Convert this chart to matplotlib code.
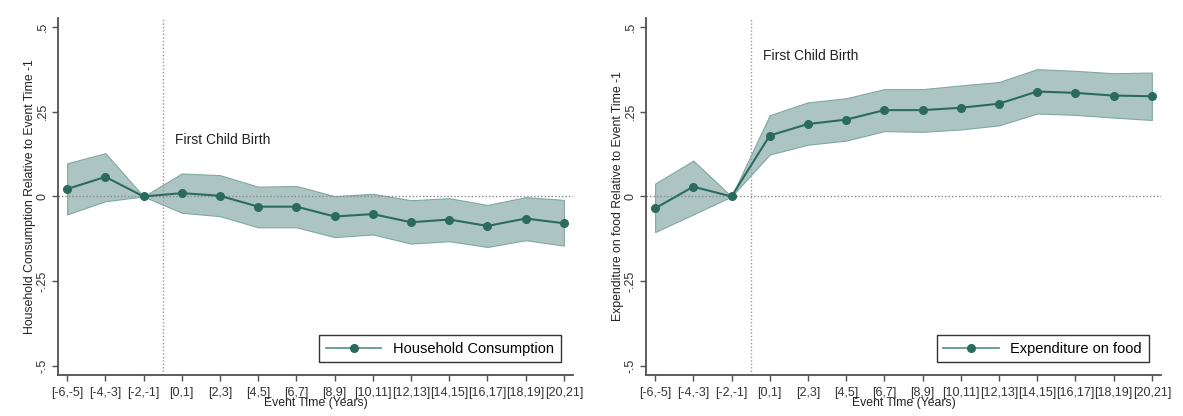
import numpy as np
import matplotlib
matplotlib.use("Agg")
import matplotlib.pyplot as plt

plt.rcParams['font.family'] = ['Liberation Sans', 'DejaVu Sans']

# event-time bins
bins = ['[-6,-5]', '[-4,-3]', '[-2,-1]', '[0,1]', '[2,3]', '[4,5]', '[6,7]',
        '[8,9]', '[10,11]', '[12,13]', '[14,15]', '[16,17]', '[18,19]', '[20,21]']

# household consumption: estimate and 95% CI
cons = [0.022, 0.058, 0.0, 0.010, 0.002, -0.030, -0.030, -0.059, -0.052,
        -0.076, -0.068, -0.087, -0.065, -0.079]
cons_hi = [0.098, 0.128, 0.0, 0.068, 0.063, 0.029, 0.031, 0.001, 0.008,
           -0.011, -0.005, -0.025, -0.002, -0.010]
cons_lo = [-0.053, -0.014, 0.0, -0.048, -0.058, -0.091, -0.091, -0.120, -0.112,
           -0.139, -0.132, -0.149, -0.129, -0.145]

# expenditure on food: estimate and 95% CI
food = [-0.035, 0.029, 0.0, 0.180, 0.214, 0.227, 0.255, 0.255, 0.262,
        0.274, 0.310, 0.306, 0.298, 0.296]
food_hi = [0.038, 0.106, 0.0, 0.240, 0.278, 0.290, 0.317, 0.317, 0.328,
           0.338, 0.376, 0.371, 0.364, 0.366]
food_lo = [-0.105, -0.053, 0.0, 0.124, 0.153, 0.165, 0.193, 0.191, 0.198,
           0.210, 0.245, 0.241, 0.233, 0.226]

yticks = [-0.5, -0.25, 0, 0.25, 0.5]
ytick_labels = ['-.5', '-.25', '0', '.25', '.5']

line_col = '#2b6b5f'
band_col = '#adc5c2'
band_edge = '#80a8a1'
axis_col = '#505050'

fig = plt.figure(figsize=(11.83, 4.16), dpi=100)

panels = [
    ([0.049, 0.0986, 0.4354, 0.8581], cons, cons_lo, cons_hi,
     'Household Consumption Relative to Event Time -1', 'Household Consumption', 0.166),
    ([0.546, 0.0986, 0.4354, 0.8581], food, food_lo, food_hi,
     'Expenditure on food Relative to Event Time -1', 'Expenditure on food', 0.414),
]

for rect, est, lo, hi, ylab, leglab, txt_y in panels:
    ax = fig.add_axes(rect)
    x = np.arange(len(bins))
    ax.fill_between(x, lo, hi, color=band_col, edgecolor=band_edge, lw=0.8, zorder=1)
    ax.axhline(0, color='#888888', ls=(0, (1, 1.5)), lw=1, zorder=2)
    ax.axvline(2.5, color='#999999', ls=(0, (1, 1.5)), lw=1, zorder=2)
    ax.plot(x, est, color=line_col, lw=1.5, zorder=3)
    ax.plot(x, est, color=line_col, marker='o', ms=5.5, ls='', zorder=4)
    # legend proxy
    ax.plot([], [], color='#5f978c', lw=1.3, marker='o', ms=5.5,
            mfc=line_col, mec=line_col, label=leglab)

    ax.text(2.83, txt_y, 'First Child Birth', fontsize=10, color='#222222',
            va='center', ha='left')

    ax.set_xlim(-0.24, 13.24)
    ax.set_ylim(-0.527, 0.527)
    ax.set_xticks(x)
    ax.set_xticklabels(bins, fontsize=9, color='#333333')
    ax.set_yticks(yticks)
    ax.set_yticklabels(ytick_labels, fontsize=9, color='#333333',
                       rotation=90, va='center')
    ax.tick_params(axis='both', length=4.5, width=1, color=axis_col)
    ax.tick_params(axis='x', pad=4)
    ax.tick_params(axis='y', pad=2)
    ax.set_xlabel('Event Time (Years)', fontsize=8.8, color='#222222', labelpad=-1)
    ax.set_ylabel(ylab, fontsize=8.8, color='#222222', labelpad=1)

    for s in ['top', 'right']:
        ax.spines[s].set_visible(False)
    for s in ['left', 'bottom']:
        ax.spines[s].set_color(axis_col)
        ax.spines[s].set_linewidth(1.3)

    leg = ax.legend(loc='lower right', fontsize=10.5, handlelength=3.8,
                    fancybox=False, framealpha=1, edgecolor='#333333',
                    borderpad=0.45, bbox_to_anchor=(0.99, 0.015))
    leg.get_frame().set_linewidth(1)

fig.savefig('out.png', dpi=100)
